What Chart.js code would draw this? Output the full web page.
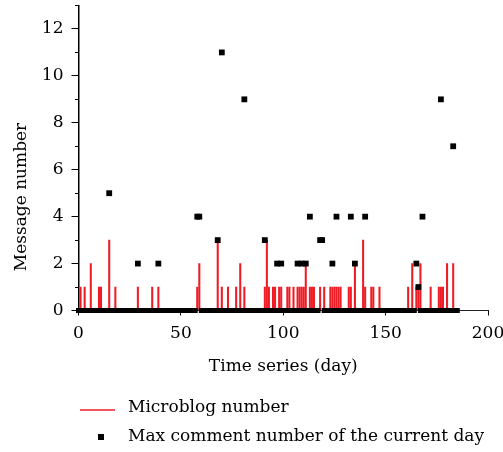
<!DOCTYPE html>
<html>
<head>
<meta charset="utf-8">
<script src="https://cdn.jsdelivr.net/npm/chart.js@4.4.0/dist/chart.umd.min.js"></script>
<style>
  html, body { margin: 0; padding: 0; background: #fff; }
</style>
</head>
<body>
<canvas id="myChart" width="503" height="452"></canvas>
<script>
// last day of the observed period (days 0..lastDay)
const lastDay = 185;

// microblog number per day (days not listed are 0)
const blogDays = [1, 3, 6, 10, 11, 15, 18, 29, 36, 39, 58, 59, 68, 70, 73, 77, 79, 81,
  91, 92, 93, 95, 96, 98, 99, 102, 103, 105, 107, 108, 109, 110, 111, 113, 114, 115,
  118, 120, 123, 124, 125, 126, 127, 128, 132, 133, 135, 139, 140, 143, 144, 147,
  161, 163, 165, 166, 167, 172, 176, 177, 178, 180, 183];
const blogCounts = [1, 1, 2, 1, 1, 3, 1, 1, 1, 1, 1, 2, 3, 1, 1, 1, 2, 1,
  1, 3, 1, 1, 1, 1, 1, 1, 1, 1, 1, 1, 1, 1, 2, 1, 1, 1,
  1, 1, 1, 1, 1, 1, 1, 1, 1, 1, 2, 3, 1, 1, 1, 1,
  1, 2, 1, 1, 2, 1, 1, 1, 1, 2, 2];

// max comment number of the current day (days not listed are 0)
const commentDays = [15, 29, 39, 58, 59, 68, 70, 81, 91, 97, 99, 107, 109, 111, 113,
  118, 119, 124, 126, 133, 135, 140, 165, 166, 168, 177, 183];
const commentMax = [5, 2, 2, 4, 4, 3, 11, 9, 3, 2, 2, 2, 2, 2, 4,
  3, 3, 2, 4, 4, 2, 4, 2, 1, 4, 9, 7];

const seriesNames = ["Microblog number", "Max comment number of the current day"];
const xTitle = "Time series (day)";
const yTitle = "Message number";
const xMax = 200;
const yMax = 13;

const days = [];
for (let d = 0; d <= lastDay; d++) days.push(d);

const blogData = days.map((d) => {
  const i = blogDays.indexOf(d);
  return { x: d, y: i >= 0 ? blogCounts[i] : 0 };
});
const commentData = days.map((d) => {
  const i = commentDays.indexOf(d);
  return { x: d, y: i >= 0 ? commentMax[i] : 0 };
});

const font = { family: "'DejaVu Serif', serif", size: 17 };
const red = "#ee1c25";

// y axis title and legend, drawn below the plot like the original figure
const extras = {
  id: "extras",
  afterDraw(chart) {
    const c = chart.ctx;
    c.save();
    c.font = "17px 'DejaVu Serif', serif";
    c.fillStyle = "#000";
    c.textBaseline = "middle";

    c.save();
    c.translate(22, 197);
    c.rotate(-Math.PI / 2);
    c.textAlign = "center";
    c.fillText(yTitle, 0, 0);
    c.restore();

    c.strokeStyle = red;
    c.lineWidth = 1.5;
    c.beginPath();
    c.moveTo(80, 410);
    c.lineTo(115, 410);
    c.stroke();
    c.fillRect(98, 434, 6, 6);

    c.textAlign = "left";
    c.fillText(seriesNames[0], 128, 408);
    c.fillText(seriesNames[1], 128, 437);
    c.restore();
  },
};

const ctx = document.getElementById("myChart");

const myChart = new Chart(ctx, {
  type: "bar",
  data: {
    datasets: [
      {
        type: "scatter",
        label: seriesNames[1],
        data: commentData,
        pointStyle: "rect",
        // zero days merge into a solid band along the axis
        pointRadius: (c) => (c.parsed && c.parsed.y === 0 ? 3.54 : 4.1),
        backgroundColor: "#000",
        borderWidth: 0,
        clip: false,
        order: 0,
      },
      {
        type: "bar",
        label: seriesNames[0],
        data: blogData,
        backgroundColor: red,
        barThickness: 1.4,
        order: 1,
      },
    ],
  },
  options: {
    responsive: false,
    animation: false,
    events: [],
    layout: { padding: { left: 0, right: 15, top: 5.5, bottom: 71.5 } },
    plugins: { legend: { display: false }, tooltip: { enabled: false } },
    scales: {
      x: {
        type: "linear",
        min: 0,
        max: xMax,
        offset: false,
        grid: { drawOnChartArea: false, tickLength: 5, color: "#000", offset: false },
        border: { color: "#222", width: 1 },
        ticks: { stepSize: 50, font: font, color: "#000", padding: 8, maxRotation: 0, autoSkip: false },
        title: { display: true, text: xTitle, font: font, color: "#000", padding: { top: 0, bottom: 4 } },
        afterFit(s) {
          s.height = 70;
          s.paddingLeft = 0;
          s.paddingRight = 0;
        },
      },
      y: {
        position: "left",
        weight: 1,
        min: 0,
        max: yMax,
        grid: { drawOnChartArea: false, tickLength: 7, color: "#000" },
        border: { color: "#000", width: 1.5 },
        ticks: { stepSize: 2, includeBounds: false, font: font, color: "#000", padding: 8 },
        afterFit(s) {
          s.width = 78.5;
          s.paddingTop = 0;
          s.paddingBottom = 0;
        },
      },
      yMinor: {
        position: "left",
        weight: 0,
        min: 0,
        max: yMax,
        grid: { drawOnChartArea: false, tickLength: 3.5, color: "#000" },
        border: { display: false },
        ticks: { stepSize: 1, includeBounds: false, display: false },
        afterFit(s) {
          s.width = 0;
          s.paddingTop = 0;
          s.paddingBottom = 0;
        },
      },
    },
  },
  plugins: [extras],
});
</script>
</body>
</html>
